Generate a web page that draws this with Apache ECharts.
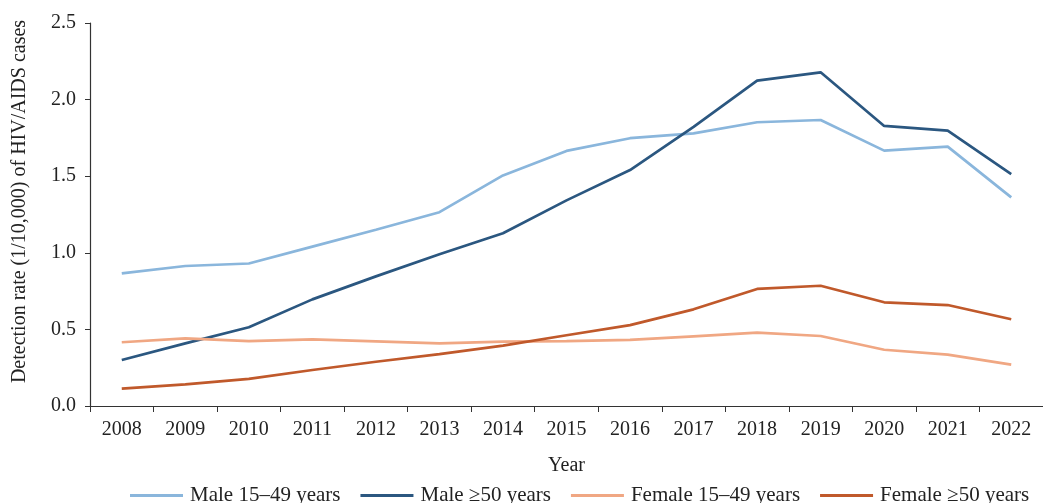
<!DOCTYPE html>
<html>
<head>
<meta charset="utf-8">
<script src="https://cdn.jsdelivr.net/npm/echarts@6/dist/echarts.min.js"></script>
<style>html,body{margin:0;padding:0;background:#fff;}#c{width:1043px;height:503px;}</style>
</head>
<body>
<div id="c"></div>
<script>
var years = ['2008','2009','2010','2011','2012','2013','2014','2015','2016','2017','2018','2019','2020','2021','2022'];
var male1549 = [0.866,0.914,0.930,1.040,1.150,1.265,1.505,1.665,1.748,1.780,1.852,1.867,1.667,1.693,1.362];
var male50 = [0.300,0.409,0.514,0.696,0.846,0.990,1.128,1.342,1.540,1.822,2.124,2.178,1.828,1.797,1.514];
var female1549 = [0.416,0.442,0.424,0.435,0.422,0.409,0.420,0.424,0.431,0.455,0.479,0.457,0.367,0.335,0.270];
var female50 = [0.113,0.141,0.177,0.235,0.289,0.339,0.394,0.462,0.528,0.631,0.764,0.785,0.677,0.659,0.566];
var yTicks = [0, 0.5, 1.0, 1.5, 2.0, 2.5];

var font = 'Liberation Serif';
var chart = echarts.init(document.getElementById('c'));
function line(name, data, color) {
  return {
    name: name, type: 'line', data: data, symbol: 'none',
    lineStyle: { color: color, width: 2.7 }, itemStyle: { color: color }
  };
}
chart.setOption({
  animation: false,
  textStyle: { fontFamily: font },
  grid: { left: 90, top: 23, bottom: 97, right: -11.5, containLabel: false },
  legend: {
    left: 125, top: 480, itemWidth: 53, itemHeight: 3, itemGap: 20,
    icon: 'rect',
    textStyle: { fontFamily: font, fontSize: 21, color: '#222', lineHeight: 21, padding: [0,0,0,2] },
    data: ['Male 15–49 years','Male ≥50 years','Female 15–49 years','Female ≥50 years']
  },
  xAxis: {
    type: 'category', data: years, boundaryGap: true,
    name: 'Year', nameLocation: 'middle', nameGap: 50,
    nameTextStyle: { fontFamily: font, fontSize: 20, color: '#222' },
    axisLine: { lineStyle: { color: '#333', width: 1.2 } },
    axisTick: { show: true, length: 6, lineStyle: { color: '#333' } },
    axisLabel: { fontFamily: font, fontSize: 20, color: '#222', margin: 14 }
  },
  yAxis: {
    type: 'value', min: 0, max: 2.5, interval: 0.5,
    name: 'Detection rate (1/10,000) of HIV/AIDS cases', nameLocation: 'middle', nameGap: 60,
    nameTextStyle: { fontFamily: font, fontSize: 20, color: '#222', padding: [0, 0, 0, 26] },
    axisLine: { show: true, lineStyle: { color: '#333', width: 1.2 } },
    axisTick: { show: true, length: 5, lineStyle: { color: '#333' } },
    splitLine: { show: false },
    axisLabel: { fontFamily: font, fontSize: 20, color: '#222', margin: 14,
      formatter: function (v) { return yTicks.indexOf(v) >= 0 ? v.toFixed(1) : ''; } }
  },
  series: [
    line('Male 15–49 years', male1549, '#8ab6dc'),
    line('Male ≥50 years', male50, '#2b5780'),
    line('Female 15–49 years', female1549, '#f0a783'),
    line('Female ≥50 years', female50, '#c0592b')
  ]
});
</script>
</body>
</html>
